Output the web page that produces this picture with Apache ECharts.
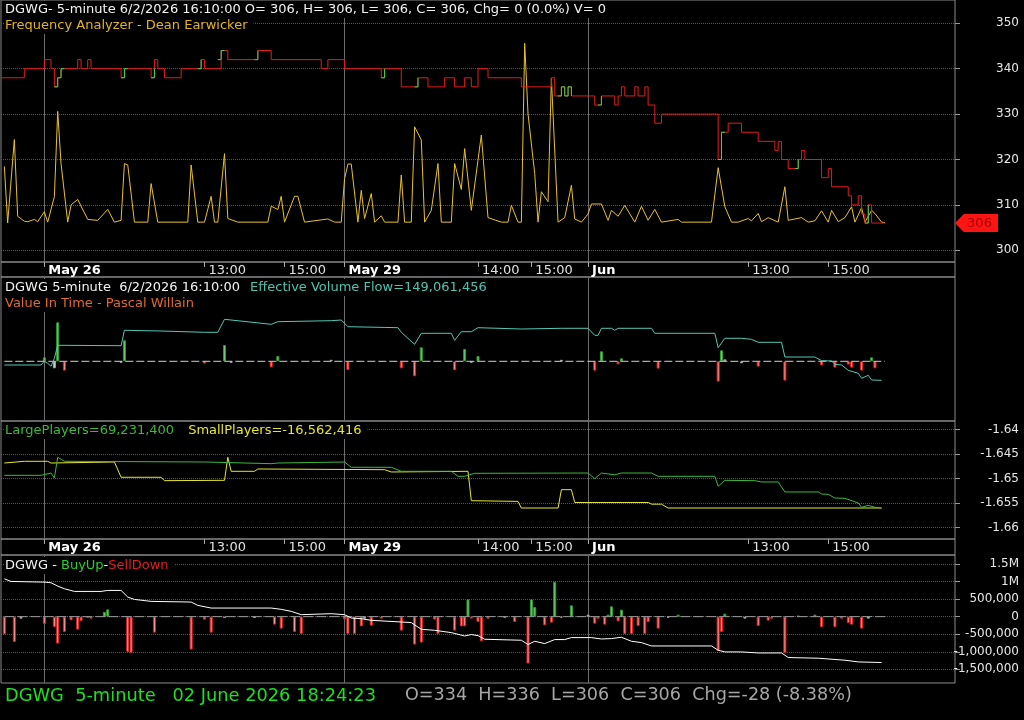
<!DOCTYPE html>
<html><head><meta charset="utf-8">
<script src="https://cdn.jsdelivr.net/npm/echarts@6/dist/echarts.min.js"></script>
<style>html,body{margin:0;padding:0;background:#000}#c{width:1024px;height:720px}</style>
</head><body><div id="c"></div>
<script>
// ---------- time slots (5-minute bars) and axis labels ----------
const N = 287;
const slotNames = Array.from({length: N}, (_, i) => 's' + i);
const tickText = {13: 'May 26', 61: '13:00', 85: '15:00', 103: 'May 29', 143: '14:00', 159: '15:00', 176: 'Jun', 224: '13:00', 248: '15:00'};
const dayBreaks = [13, 103, 176];

// ---------- panel 1: price (step) and Frequency Analyzer ----------
const priceSteps = [[0,338],[7,340],[13,342],[15,340],[16,336],[17,338],[18,340],[23,342],[24,340],[26,342],[27,340],[36,338],[37,340],[45,338],[46,342],[47,340],[49,338],[54,340],[60,342],[61,340],[66,344],[68,342],[77,344],[81,342],[96,340],[98,342],[103,340],[114,338],[115,340],[120,336],[125,338],[128,336],[133,338],[136,336],[139,338],[141,336],[143,340],[146,338],[156,336],[165,338],[166,334],[168,336],[169,334],[170,336],[171,334],[178,332],[180,334],[184,332],[185,334],[186,336],[187,334],[190,336],[191,334],[193,336],[194,332],[196,328],[198,330],[215,320],[216,326],[218,328],[222,326],[227,324],[232,322],[233,324],[234,320],[236,318],[239,320],[240,322],[241,320],[246,316],[248,318],[249,314],[254,312],[255,310],[257,312],[258,308],[259,306],[260,310],[261,306],[265,306]];
const priceUpMoves = [
  [[16,336],[17,338],[18,340],[19,340]],
  [[36,338],[37,340],[38,340]],
  [[45,338],[46,340]],
  [[59,340],[60,342]],
  [[65,342],[66,344],[67,344]],
  [[76,342],[77,344]],
  [[114,338],[115,340]],
  [[124,336],[125,338]],
  [[167,334],[168,336],[169,334],[170,336],[171,334]],
  [[179,332],[180,334]],
  [[215,320],[216,326],[217,326]],
  [[238,318],[239,320]],
  [[259,306],[260,310]]
];
const lastPrice = 306;
const freqAnalyzer = [[1,318.5],[2,306],[4,324.4],[5,307.5],[7,306.4],[8,306.3],[10,306.8],[11,306.3],[13,308.5],[14,306.2],[16,311.8],[17,330.6],[18,319.1],[20,306.2],[21,310],[23,311.2],[26,306.8],[29,306.6],[32,309],[34,306.2],[36,306.6],[37,319.1],[38,318.8],[40,306.2],[44,306.2],[45,314.7],[47,306.2],[56,306.2],[57,318.8],[59,306.2],[61,306.2],[63,311.9],[64,306.2],[65,306.2],[67,321.3],[68,307],[71,306.2],[80,306.2],[81,309.7],[83,309],[84,311.9],[85,306.2],[88,311.9],[89,311.9],[91,306.2],[98,306.9],[100,306.2],[102,306.2],[103,315.8],[104,319],[105,319],[107,306.2],[108,313.2],[109,307],[111,312.5],[112,306.2],[114,307.6],[115,306.2],[119,306.2],[120,316.6],[121,306.2],[123,306.2],[124,327.2],[126,324.3],[127,306.2],[129,308.8],[131,319.1],[132,306.2],[135,306.2],[136,319.1],[138,313.4],[139,322.4],[141,308.8],[144,325.4],[146,307.2],[150,306.2],[152,306.2],[153,309.9],[155,306.2],[156,306.2],[157,345.6],[158,330],[160,316.9],[161,306.2],[162,312.9],[164,310.7],[165,337.9],[167,306.2],[169,307.2],[171,314.3],[172,306.9],[174,306.2],[176,308],[177,310.2],[180,310.2],[182,306.6],[183,308.8],[185,307.5],[187,309.9],[190,306.2],[192,309.7],[194,306.6],[196,309],[198,306.2],[203,306.8],[204,306.2],[213,306.2],[215,318.2],[217,309.6],[219,306.2],[221,306.2],[224,307],[225,306.5],[227,308.1],[228,306.3],[230,307.2],[233,306.2],[235,314],[236,306.6],[240,307.2],[242,306.2],[244,306.5],[246,308.7],[248,306.2],[249,308.8],[251,306.3],[253,307.2],[255,309.6],[256,306.2],[258,309.4],[259,306.2],[261,308.8],[262,308.1],[264,306.2],[265,306.1]];

// ---------- panel 2: Value In Time bars + Effective Volume Flow ----------
const vitUp = [[13,0.4],[17,3.9],[37,2.1],[67,1.63],[83,0.53],[126,1.4],[139,1.23],[143,0.53],[180,1.0],[186,0.3],[216,1.1],[261,0.4]];
const vitDown = [[19,-0.93],[61,-0.23],[81,-0.6],[104,-0.87],[120,-0.7],[124,-1.5],[136,-0.9],[178,-0.93],[185,-0.3],[197,-0.73],[215,-2.03],[227,-0.53],[235,-1.93],[246,-0.4],[250,-0.63],[254,-0.33],[255,-0.63],[258,-0.93],[262,-0.7]];
const vitFlat = [[16,-0.7],[36,-0.15],[69,-0.15],[99,0.15],[141,-0.15],[168,0.15],[217,0.2],[222,-0.2]];
const volumeFlow = [[1,-0.37],[12,-0.37],[13,0.0],[14,-0.2],[15,-0.5],[16,0.3],[17,1.6],[18,1.6],[36,1.56],[37,3.1],[48,3.03],[61,2.9],[65,2.9],[67,4.2],[81,3.7],[83,3.96],[99,4.06],[102,4.13],[104,3.46],[119,3.36],[120,2.9],[124,1.7],[126,2.8],[135,2.8],[136,2.1],[138,2.96],[141,2.96],[143,3.36],[156,3.23],[168,3.3],[176,3.3],[178,2.6],[179,2.6],[180,3.3],[183,3.3],[184,3.1],[185,3.3],[195,3.3],[196,2.8],[214,2.8],[215,1.36],[217,2.3],[222,2.3],[225,2.2],[227,1.9],[234,1.9],[235,0.43],[244,0.43],[246,0.06],[249,0.03],[250,-0.3],[252,-0.37],[254,-0.9],[257,-1.2],[258,-1.7],[260,-1.4],[261,-1.87],[264,-1.9]];
const vitSpan = [1, 265];

// ---------- panel 3: Large / Small players ----------
const largePlayers = [[1,-1.64931],[12,-1.64931],[15,-1.64884],[16,-1.64986],[17,-1.64563],[19,-1.64645],[61,-1.64659],[81,-1.64693],[83,-1.6468],[103,-1.64659],[105,-1.64767],[117,-1.64767],[120,-1.64849],[135,-1.64849],[137,-1.64951],[139,-1.64951],[142,-1.6489],[176,-1.64884],[178,-1.65],[180,-1.64884],[184,-1.6492],[186,-1.64884],[195,-1.64884],[197,-1.64951],[214,-1.64951],[215,-1.65155],[217,-1.65033],[226,-1.6504],[228,-1.65067],[233,-1.65067],[235,-1.65271],[245,-1.65271],[246,-1.65312],[248,-1.6532],[250,-1.65394],[253,-1.654],[257,-1.65496],[258,-1.65584],[260,-1.65543],[262,-1.65584],[264,-1.65598]];
const smallPlayers = [[1,-1.6468],[7,-1.64645],[14,-1.64645],[15,-1.6468],[34,-1.64659],[36,-1.64971],[48,-1.64971],[49,-1.6504],[67,-1.65033],[68,-1.64563],[69,-1.64849],[76,-1.64849],[77,-1.64802],[115,-1.64816],[117,-1.64863],[140,-1.64849],[141,-1.65449],[155,-1.65463],[156,-1.65598],[167,-1.65598],[168,-1.65224],[171,-1.65224],[172,-1.65486],[194,-1.65486],[195,-1.6552],[198,-1.6552],[200,-1.65598],[264,-1.65598]];

// ---------- panel 4: BuyUp - SellDown ----------
const buyUp = [[31,133000],[32,208000],[140,492000],[159,492000],[160,275000],[166,994000],[171,322000],[182,57000],[183,294000],[186,199000],[203,57000],[217,85000],[244,57000]];
const sellDown = [[1,-502000],[4,-720000],[13,-208000],[16,-294000],[17,-767000],[19,-436000],[21,-104000],[23,-369000],[24,-123000],[26,-38000],[27,-57000],[38,-1004000],[39,-1032000],[46,-455000],[57,-938000],[61,-85000],[63,-455000],[82,-227000],[84,-341000],[88,-436000],[90,-492000],[103,-76000],[104,-492000],[106,-492000],[108,-275000],[111,-256000],[114,-57000],[120,-398000],[124,-795000],[126,-739000],[130,-85000],[131,-492000],[136,-398000],[138,-275000],[139,-275000],[141,-57000],[143,-152000],[144,-700000],[146,-57000],[154,-152000],[158,-1335000],[163,-246000],[165,-170000],[178,-199000],[179,-57000],[181,-227000],[185,-133000],[187,-492000],[189,-492000],[191,-265000],[193,-492000],[194,-152000],[197,-341000],[215,-975000],[216,-436000],[227,-265000],[230,-114000],[231,-57000],[235,-1032000],[246,-294000],[250,-294000],[252,-57000],[254,-180000],[255,-227000],[258,-341000]];
const flatBars = [[6,-57000],[67,-38000],[76,-38000],[109,-57000],[151,-30000],[168,-30000],[176,57000],[200,-30000],[223,-57000],[239,20000],[260,-57000]];
const buySellLine = [[1,1078700],[3,1002800],[13,984000],[15,966000],[17,870000],[19,795000],[22,719000],[30,719000],[32,747000],[36,747000],[38,558000],[40,491000],[45,435000],[57,416000],[59,321000],[63,245000],[81,245000],[84,208000],[87,151000],[90,56000],[99,84000],[103,56000],[105,-39000],[108,-57000],[111,-105000],[120,-152000],[123,-170000],[126,-360000],[130,-389000],[135,-455000],[139,-550000],[141,-511000],[143,-540000],[145,-644000],[156,-672000],[158,-795000],[160,-701000],[163,-767000],[166,-653000],[169,-653000],[171,-597000],[177,-597000],[180,-636000],[183,-625000],[186,-587000],[189,-701000],[192,-739000],[195,-835000],[213,-835000],[215,-957000],[217,-1005000],[222,-1005000],[227,-1034000],[234,-1034000],[236,-1165000],[245,-1184000],[253,-1241000],[257,-1290000],[264,-1307000]];
const bsSpan = [1, 265];

// ---------- styling ----------
const FONT = 'DejaVu Sans';
const FRAME = '#8a8a8a';
const DOT = {color: '#555', type: 'dotted', width: 1};
const axisTxt = {color: '#e6e6e6', fontSize: 12, fontFamily: FONT};

function box(top, height, show) {
  return {left: 1, width: 954, top, height, show: !!show, borderColor: FRAME, borderWidth: 1, backgroundColor: 'transparent', containLabel: false};
}
const grid = [
  box(0, 262, true), box(277, 144, true), box(421, 118, true), box(555, 128, true),
  box(262, 15, true), box(539, 16, true),
  box(23.3, 227), box(281.3, 140), box(429.7, 98), box(564, 105.3)
];
const isTick = (i) => tickText[i] !== undefined;
const xAxis = grid.map((g, gi) => {
  const frame = gi < 4;
  const labelled = gi === 0 || gi === 2;
  return {
    type: 'category', gridIndex: gi, data: slotNames, boundaryGap: false,
    show: frame,
    axisLine: {show: false},
    axisTick: {show: labelled, interval: isTick, length: 5, lineStyle: {color: '#aaa'}},
    axisLabel: {
      show: labelled, interval: isTick, align: 'left', margin: 2,
      formatter: (v, i) => {
        const t = tickText[i];
        if (t === undefined) return '';
        return dayBreaks.includes(i) ? '{d|' + t + '}' : '{t|' + t + '}';
      },
      rich: {
        d: {color: '#ffffff', fontWeight: 'bold', fontSize: 13, fontFamily: FONT, padding: [0, 0, 0, 4]},
        t: {color: '#e0e0e0', fontSize: 13, fontFamily: FONT, padding: [0, 0, 0, 4]}
      }
    },
    splitLine: {show: frame, interval: (i) => dayBreaks.includes(i), lineStyle: {color: '#6c6c6c', width: 1}}
  };
});
const hiddenY = (gi) => ({type: 'value', gridIndex: gi, show: false, splitLine: {show: false}});
const rightY = (gi, min, max, interval, fmt) => ({
  type: 'value', gridIndex: gi, position: 'right', min, max, interval,
  axisLine: {show: false},
  axisTick: {show: true, length: 5, lineStyle: {color: '#999'}},
  axisLabel: Object.assign({align: 'right', margin: 64, formatter: fmt}, axisTxt),
  splitLine: {show: true, lineStyle: DOT}
});
const yAxis = [
  hiddenY(0), hiddenY(1), hiddenY(2), hiddenY(3), hiddenY(4), hiddenY(5),
  rightY(6, 300, 350, 10, (v) => String(Math.round(v))),
  {type: 'value', gridIndex: 7, show: false, min: -6, max: 8, splitLine: {show: false}},
  rightY(8, -1.66, -1.64, 0.005, (v) => v.toFixed(3).replace(/0$/, '')),
  rightY(9, -1500000, 1500000, 500000, (v) => {
    if (Math.abs(v - 1500000) < 1) return '1.5M';
    if (Math.abs(v - 1000000) < 1) return '1M';
    return Math.round(v).toLocaleString('en-US');
  })
];

const line = (xi, data, color, extra) => Object.assign({
  type: 'line', xAxisIndex: xi, yAxisIndex: xi, data, showSymbol: false, symbol: 'none',
  lineStyle: {color, width: 1}, itemStyle: {color}, animation: false, silent: true
}, extra || {});
const barItems = (arr, fill, border) => arr.map(([i, v]) => ({value: [i, v], itemStyle: {color: fill, borderColor: border, borderWidth: 1}}));
const UP = ['#74c874', '#2f9a2f'], DN = ['#f29c9c', '#e02020'], FL = ['#d6d6d6', '#a0a0a0'];

const series = [];
// panel 1
series.push(line(6, freqAnalyzer, '#e8c22a'));
series.push(line(6, priceSteps, '#e41b1b', {
  step: 'end',
  markPoint: {
    silent: true, animation: false,
    symbol: 'path://M0,9L9,0L44,0L44,18L9,18Z', symbolSize: [43, 18], symbolOffset: ['50%', 0],
    itemStyle: {color: '#ff1414'},
    label: {show: true, color: '#9c0000', fontSize: 13, fontFamily: FONT, offset: [3, 1], formatter: String(lastPrice)},
    data: [{coord: [slotNames[N - 1], lastPrice], value: lastPrice}]
  }
}));
priceUpMoves.forEach(seg => series.push(line(6, seg, '#3ddc3d', {step: 'end'})));
// panel 2
series.push({type: 'bar', xAxisIndex: 7, yAxisIndex: 7, barWidth: 3, animation: false, silent: true,
  data: [].concat(barItems(vitUp, UP[0], UP[1]), barItems(vitDown, DN[0], DN[1]), barItems(vitFlat, FL[0], FL[1]))});
series.push(line(7, [[vitSpan[0], 0], [vitSpan[1], 0]], '#d0d0d0', {lineStyle: {color: '#d0d0d0', width: 1, type: [8, 3]}}));
series.push(line(7, volumeFlow, '#56c7b4'));
// panel 3
series.push(line(8, smallPlayers, '#e6e62e'));
series.push(line(8, largePlayers, '#3cb83c'));
// panel 4
series.push(line(9, [[bsSpan[0], 0], [bsSpan[1], 0]], '#9a9a9a', {lineStyle: {color: '#9a9a9a', width: 1, type: [10, 3]}}));
series.push({type: 'bar', xAxisIndex: 9, yAxisIndex: 9, barWidth: 3, animation: false, silent: true,
  data: [].concat(barItems(buyUp, UP[0], UP[1]), barItems(sellDown, DN[0], DN[1]), barItems(flatBars, FL[0], FL[1]))});
series.push(line(9, buySellLine, '#ffffff'));

const TS = 13;
const T = (left, top, text, color, rich, size) => ({
  left, top, text, padding: [1, 6, 1, 1], backgroundColor: '#000',
  textStyle: {color, fontSize: size || TS, lineHeight: (size || TS) + 2, fontFamily: FONT, fontWeight: 'normal', rich: rich || {}}
});
const rs = (color, extra) => Object.assign({color, fontSize: TS, lineHeight: TS + 2, fontFamily: FONT}, extra || {});
const title = [
  T(4, 1, 'DGWG- 5-minute 6/2/2026 16:10:00 O= 306, H= 306, L= 306, C= 306, Chg= 0 (0.0%) V= 0', '#f2f2f2'),
  T(4, 17, 'Frequency Analyzer - Dean Earwicker', '#e2b520'),
  T(4, 279, '{w|DGWG 5-minute  6/2/2026 16:10:00}{c|Effective Volume Flow=149,061,456}', '#f2f2f2',
    {w: rs('#f2f2f2'), c: rs('#4fc3b0', {padding: [0, 0, 0, 10]})}),
  T(4, 295, 'Value In Time - Pascal Willain', '#e06a2c'),
  T(4, 422, '{g|LargePlayers=69,231,400}{y|SmallPlayers=-16,562,416}', '#3cb83c',
    {g: rs('#3cb83c'), y: rs('#e6e62e', {padding: [0, 0, 0, 14]})}),
  T(4, 557, '{w|DGWG - }{g|BuyUp}{w|-}{r|SellDown}', '#f2f2f2',
    {w: rs('#f2f2f2'), g: rs('#2ecc2e'), r: rs('#e02020')}),
  Object.assign(T(4, 685, 'DGWG  5-minute   02 June 2026 18:24:23', '#22dd22', null, 17.8), {backgroundColor: 'transparent'}),
  Object.assign(T(404, 685, 'O=334  H=336  L=306  C=306  Chg=-28 (-8.38%)', '#a6a6a6', null, 17.6), {backgroundColor: 'transparent'})
];

const chart = echarts.init(document.getElementById('c'), null, {renderer: 'canvas'});
chart.setOption({backgroundColor: '#000', animation: false, title, grid, xAxis, yAxis, series});
</script>
</body></html>
